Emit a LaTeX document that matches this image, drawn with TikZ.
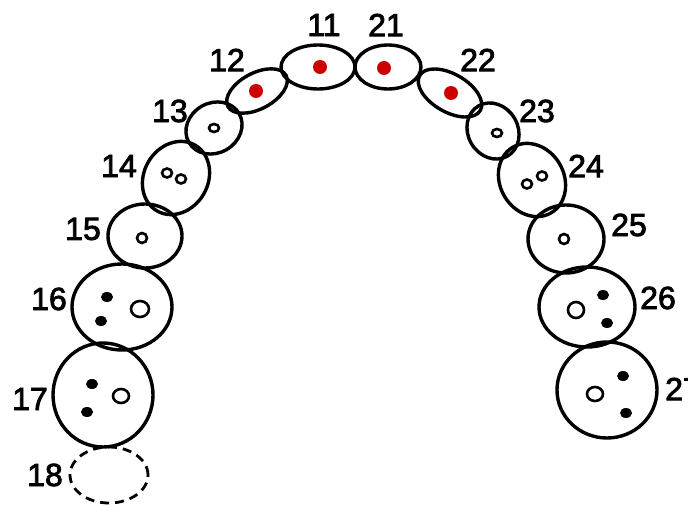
\documentclass[tikz,border=0pt]{standalone}
\usepackage{fontspec}
\setmainfont{Liberation Sans}
\newfontfamily\numfont[BoldFont={Liberation Sans},BoldFeatures={FakeBold=2.5}]{Liberation Sans}
\usetikzlibrary{shapes.geometric}
\definecolor{dotred}{RGB}{204,0,0}

\begin{document}
\begin{tikzpicture}[x=1pt,y=-1pt,
  tooth/.style = {draw,ellipse,line width=3.4pt,inner sep=0pt},
  missing/.style = {tooth,line width=2.8pt,dash pattern=on 9pt off 6pt},
  num/.style = {font=\numfont\bfseries\fontsize{32}{32}\selectfont,inner sep=0pt},
  hole/.style = {line width=2.6pt}]
\useasboundingbox (0,0) rectangle (688,505);
% teeth, upper jaw
\node[tooth,minimum width=74,minimum height=44] (11) at (318,67) {};
\node[tooth,minimum width=66,minimum height=44] (21) at (388,67) {};
\node[tooth,minimum width=66,minimum height=36,rotate=28] (12) at (257,91) {};
\node[tooth,minimum width=70,minimum height=38,rotate=-30] (22) at (450,93) {};
\node[tooth,minimum width=58,minimum height=50,rotate=30] (13) at (214,128) {};
\node[tooth,minimum width=58,minimum height=50,rotate=-60] (23) at (493,131) {};
\node[tooth,minimum width=76,minimum height=64,rotate=60] (14) at (176,178) {};
\node[tooth,minimum width=76,minimum height=64,rotate=-60] (24) at (532,180) {};
\node[tooth,minimum width=74,minimum height=64] (15) at (145,236) {};
\node[tooth,minimum width=76,minimum height=68] (25) at (566,239) {};
\node[tooth,minimum width=100,minimum height=86] (16) at (122,307) {};
\node[tooth,minimum width=96,minimum height=80] (26) at (587,307) {};
\node[tooth,minimum width=100,minimum height=104] (17) at (103,395) {};
\node[tooth,minimum width=100,minimum height=96] (27) at (607,390) {};
\node[missing,minimum width=78,minimum height=56] (18) at (109,475) {};
% marks inside
\fill[dotred] (320,67) circle (7) (384,68) circle (7)
  (256,91) circle (7) (451,93) circle (7);
\draw[hole] (214,128) ellipse (5 and 4) (497,133) ellipse (5 and 4);
\draw[hole] (167,173) ellipse (5 and 4.5) (181,179) ellipse (5 and 4.5);
\draw[hole] (527,184) ellipse (5 and 4.5) (542,176) ellipse (5 and 4.5);
\draw[hole] (142,238) circle (5) (564,239) circle (5);
\draw[hole] (140,309) ellipse (9 and 8) (576,310) circle (8);
\draw[hole] (121,396) ellipse (8 and 7) (595,394) ellipse (8 and 7);
\fill (107,297) ellipse (6 and 5) (101,321) ellipse (6 and 5);
\fill (603,295) ellipse (6 and 5) (607,323) ellipse (6 and 5);
\fill (92,384) ellipse (6 and 5) (87,412) ellipse (6 and 5);
\fill (623,376) ellipse (6 and 5) (626,413) ellipse (6 and 5);
% numbers
\node[num] (l11) at (324,25) {11};
\node[num] (l21) at (386,25) {21};
\node[num] (l12) at (227,60) {12};
\node[num] (l22) at (478,60) {22};
\node[num] (l13) at (170,111) {13};
\node[num] (l23) at (537,111) {23};
\node[num] (l14) at (119,166) {14};
\node[num] (l24) at (586,166) {24};
\node[num] (l15) at (83,229) {15};
\node[num] (l25) at (629,225) {25};
\node[num] (l16) at (49,299) {16};
\node[num] (l26) at (658,298) {26};
\node[num] (l17) at (30,399) {17};
\node[num] (l27) at (683,389) {27};
\node[num] (l18) at (45,475) {18};
\end{tikzpicture}
\end{document}
